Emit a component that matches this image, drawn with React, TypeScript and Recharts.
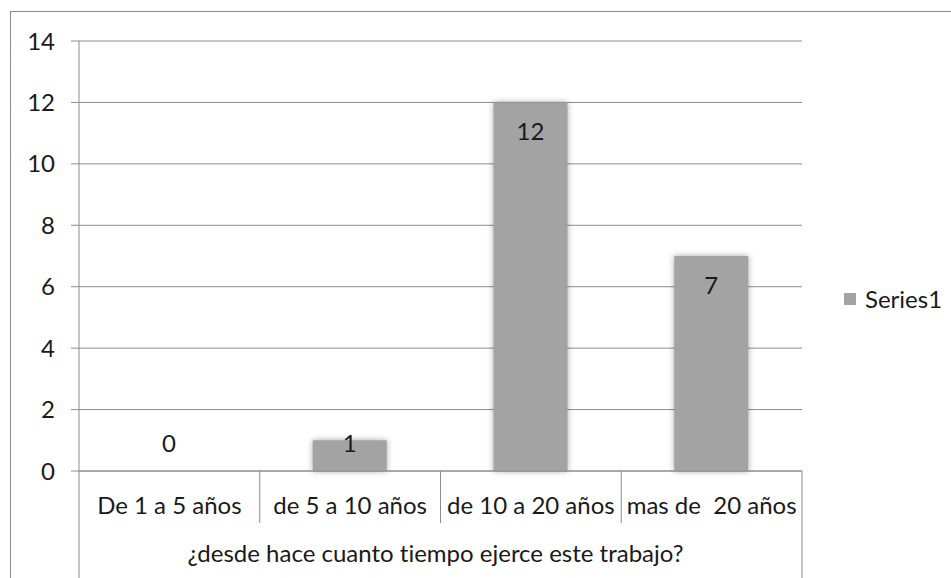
import { BarChart, Bar, XAxis, YAxis, CartesianGrid, LabelList } from 'recharts'

const CATEGORIES = ['De 1 a 5 años', 'de 5 a 10 años', 'de 10 a 20 años', 'mas de  20 años']
const SERIES1 = [0, 1, 12, 7]
const Y_TICKS = [0, 2, 4, 6, 8, 10, 12, 14]
const SERIES_NAME = 'Series1'
const AXIS_TITLE = '¿desde hace cuanto tiempo ejerce este trabajo?'

const W = 951
const H = 578
const MARGIN = { top: 41, right: 149, left: 0, bottom: 0 }
const Y_AXIS_W = 79
const X_AXIS_H = 107
const FONT = 'Lato, "Open Sans", sans-serif'
const FS = 24
const TEXT = '#1a1a1a'
const LINE = '#8c8c8c'
const BAR = '#a3a3a3'
const NO_LIGA = { fontVariantLigatures: 'none' as const }

const data = CATEGORIES.map((name, i) => ({ name, value: SERIES1[i] }))
const plotW = W - MARGIN.left - MARGIN.right - Y_AXIS_W
const bandW = plotW / CATEGORIES.length

// two-tier category axis, Excel style: labels, separators, group title
function CatTick(props: any) {
  const { x, y, payload, index } = props
  const half = bandW / 2
  const last = index === CATEGORIES.length - 1
  return (
    <g>
      <text x={x} y={y + 43} textAnchor="middle" fontFamily={FONT} fontSize={FS} fill={TEXT} style={{ whiteSpace: 'pre', ...NO_LIGA }}>
        {payload.value}
      </text>
      {index === 0 && <line x1={x - half} x2={x - half} y1={y} y2={H} stroke={LINE} />}
      <line x1={x + half} x2={x + half} y1={y} y2={last ? H : y + 52} stroke={LINE} />
      {index === 0 && (
        <text x={x - half + plotW / 2 - 5} y={y + 91} textAnchor="middle" fontFamily={FONT} fontSize={FS} fill={TEXT} style={NO_LIGA}>
          {AXIS_TITLE}
        </text>
      )}
    </g>
  )
}

function ValueLabel(props: any) {
  const { x, y, width, height, value } = props
  const base = y + height
  const ty = Math.min(y + 38, base - 19)
  return (
    <text x={x + width / 2} y={ty} textAnchor="middle" fontFamily={FONT} fontSize={FS} fill={TEXT}>
      {value}
    </text>
  )
}

function ShadowBar(props: any) {
  const { x, y, width, height } = props
  if (!height) return null
  return (
    <rect x={x} y={y} width={width} height={height} fill={BAR}
      style={{ filter: 'drop-shadow(0 0 3px rgba(0,0,0,0.35))' }} />
  )
}

export default function App() {
  return (
    <div style={{ position: 'absolute', left: 0, top: 0, width: W, height: H, background: '#fff', overflow: 'hidden' }}>
      <div style={{ position: 'absolute', left: 10, top: 11, width: W, height: H, borderLeft: `1px solid ${LINE}`, borderTop: `1px solid ${LINE}` }} />
      <BarChart width={W} height={H} data={data} margin={MARGIN} barSize={74} style={{ position: 'absolute', left: 0, top: 0 }}>
        <CartesianGrid vertical={false} stroke={LINE} />
        <YAxis
          type="number"
          domain={[0, 14]}
          ticks={Y_TICKS}
          width={Y_AXIS_W}
          tickSize={8}
          tickMargin={16}
          stroke={LINE}
          tick={{ fontFamily: FONT, fontSize: FS, fill: TEXT }}
          interval={0}
        />
        <XAxis
          dataKey="name"
          height={X_AXIS_H}
          tickSize={0}
          tickMargin={0}
          tickLine={false}
          stroke={LINE}
          interval={0}
          tick={<CatTick />}
        />
        <Bar dataKey="value" name={SERIES_NAME} fill={BAR} shape={<ShadowBar />} isAnimationActive={false}>
          <LabelList dataKey="value" content={<ValueLabel />} />
        </Bar>
      </BarChart>
      <div style={{ position: 'absolute', left: 844, top: 284, display: 'flex', alignItems: 'center', fontFamily: FONT, fontSize: FS, color: TEXT, lineHeight: '30px' }}>
        <span style={{ display: 'inline-block', width: 12, height: 12, background: BAR, marginRight: 9 }} />
        {SERIES_NAME}
      </div>
    </div>
  )
}
